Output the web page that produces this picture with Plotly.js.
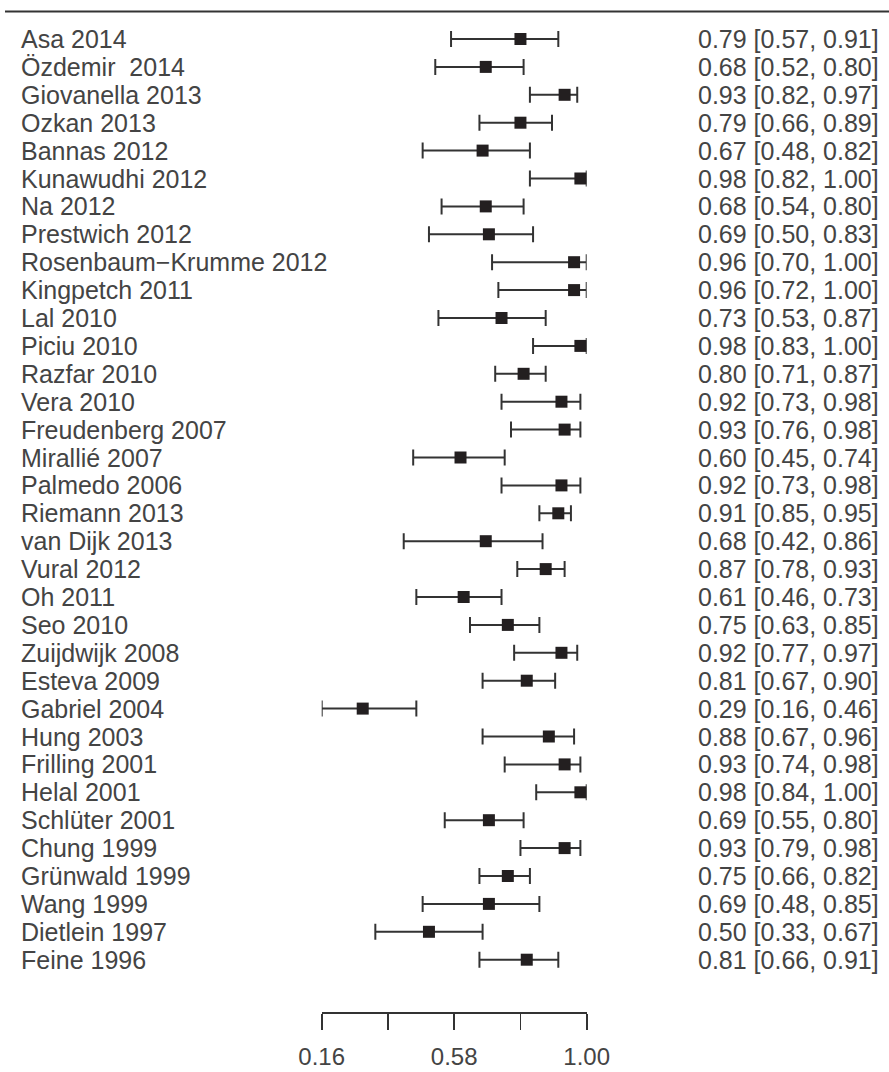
<!DOCTYPE html>
<html>
<head>
<meta charset="utf-8">
<script src="https://cdn.plot.ly/plotly-3.0.1.min.js"></script>
<style>html,body{margin:0;padding:0;background:#fff;}</style>
</head>
<body>
<div id="chart" style="width:889px;height:1072px;"></div>
<script>
var studies = ["Asa 2014","Özdemir\u00A0 2014","Giovanella 2013","Ozkan 2013","Bannas 2012","Kunawudhi 2012","Na 2012","Prestwich 2012","Rosenbaum\u2212Krumme 2012","Kingpetch 2011","Lal 2010","Piciu 2010","Razfar 2010","Vera 2010","Freudenberg 2007","Mirallié 2007","Palmedo 2006","Riemann 2013","van Dijk 2013","Vural 2012","Oh 2011","Seo 2010","Zuijdwijk 2008","Esteva 2009","Gabriel 2004","Hung 2003","Frilling 2001","Helal 2001","Schlüter 2001","Chung 1999","Grünwald 1999","Wang 1999","Dietlein 1997","Feine 1996"];
var estimate = [0.79,0.68,0.93,0.79,0.67,0.98,0.68,0.69,0.96,0.96,0.73,0.98,0.80,0.92,0.93,0.60,0.92,0.91,0.68,0.87,0.61,0.75,0.92,0.81,0.29,0.88,0.93,0.98,0.69,0.93,0.75,0.69,0.50,0.81];
var lower = [0.57,0.52,0.82,0.66,0.48,0.82,0.54,0.50,0.70,0.72,0.53,0.83,0.71,0.73,0.76,0.45,0.73,0.85,0.42,0.78,0.46,0.63,0.77,0.67,0.16,0.67,0.74,0.84,0.55,0.79,0.66,0.48,0.33,0.66];
var upper = [0.91,0.80,0.97,0.89,0.82,1.00,0.80,0.83,1.00,1.00,0.87,1.00,0.87,0.98,0.98,0.74,0.98,0.95,0.86,0.93,0.73,0.85,0.97,0.90,0.46,0.96,0.98,1.00,0.80,0.98,0.82,0.85,0.67,0.91];
var tickValues = [0.16,0.37,0.58,0.79,1.00];
var tickLabels = ["0.16","","0.58","","1.00"];

var W = 889, H = 1072;
var rowIdx = studies.map(function(_, i){ return i; });
var FONT = "Liberation Sans, Arial, Helvetica, sans-serif";
var TXT = "#444444";

var trace = {
  type: "scatter",
  mode: "markers",
  x: estimate,
  y: rowIdx,
  cliponaxis: false,
  marker: {symbol: "square", size: 12, color: "#231f20", line: {width: 0}},
  error_x: {
    type: "data",
    symmetric: false,
    array: estimate.map(function(v, i){ return upper[i] - v; }),
    arrayminus: estimate.map(function(v, i){ return v - lower[i]; }),
    color: "#333333",
    thickness: 2,
    width: 8
  },
  hoverinfo: "skip"
};

var annotations = [];
studies.forEach(function(s, i){
  annotations.push({
    xref: "paper", yref: "y", x: 19 / W, y: i,
    xanchor: "left", yanchor: "middle", showarrow: false,
    text: s, font: {family: FONT, size: 25, color: TXT}
  });
  annotations.push({
    xref: "paper", yref: "y", x: 696 / W, y: i,
    xanchor: "left", yanchor: "middle", showarrow: false,
    text: estimate[i].toFixed(2) + " [" + lower[i].toFixed(2) + ", " + upper[i].toFixed(2) + "]",
    font: {family: FONT, size: 25, color: TXT}
  });
});

var plotBottom = 1012;
var rowTop = 39, rowStep = 27.9;
var yMin = -rowTop / rowStep;
var yMax = (plotBottom - rowTop) / rowStep;

var layout = {
  width: W, height: H,
  margin: {l: 0, r: 0, t: 0, b: H - plotBottom, pad: 0},
  paper_bgcolor: "#ffffff",
  plot_bgcolor: "#ffffff",
  showlegend: false,
  font: {family: FONT, color: TXT},
  xaxis: {
    domain: [321.7 / W, 586.7 / W],
    range: [0.16, 1.00],
    showgrid: false, zeroline: false,
    showline: true, linecolor: "#333333", linewidth: 1.8,
    ticks: "outside", ticklen: 16, tickwidth: 1.8, tickcolor: "#333333",
    tickvals: tickValues, ticktext: tickLabels,
    tickfont: {family: FONT, size: 24, color: TXT},
    ticklabelstandoff: 6,
    fixedrange: true
  },
  yaxis: {
    range: [yMax, yMin],
    visible: false, showgrid: false, zeroline: false,
    fixedrange: true
  },
  shapes: [{
    type: "line", xref: "paper", yref: "paper",
    x0: 5 / W, x1: 1, y0: 1 - 11.5 / plotBottom, y1: 1 - 11.5 / plotBottom,
    line: {color: "#333333", width: 2}
  }],
  annotations: annotations
};

Plotly.newPlot("chart", [trace], layout, {displayModeBar: false, staticPlot: true});
</script>
</body>
</html>
